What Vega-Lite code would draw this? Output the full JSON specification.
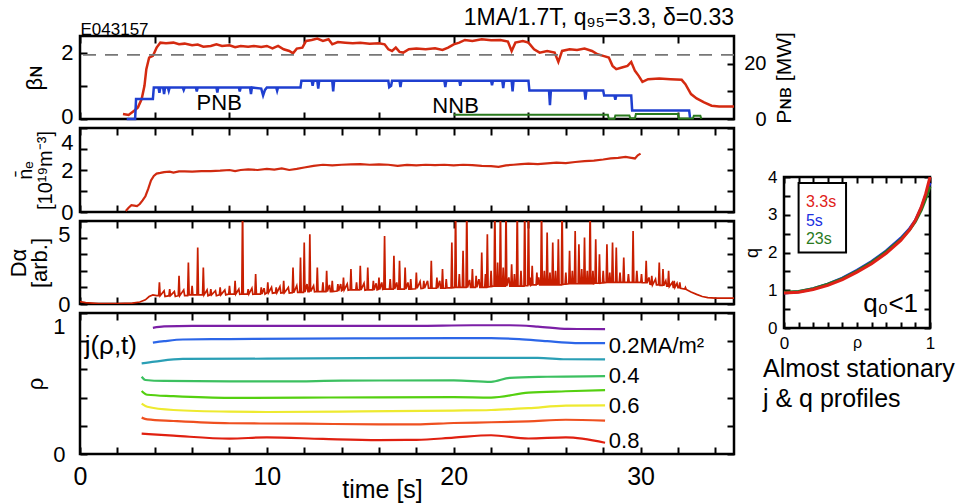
{
"$schema":"https://vega.github.io/schema/vega-lite/v6.json",
"padding":{"left":6,"top":5,"right":0,"bottom":0},
"background":"white",
"config":{"font":"Liberation Sans","view":{"stroke":"black","strokeWidth":2.5},
"axis":{"domain":false,"grid":false,"tickColor":"black","tickWidth":2,"tickSize":-7,"labelColor":"black","titleColor":"black","titleFontWeight":"normal","labelFlush":false,"labelOverlap":false,"labelFont":"Liberation Sans","titleFont":"Liberation Sans"},
"title":{"fontWeight":"normal","color":"black","font":"Liberation Sans"}},
"datasets":{
"beta":[{"t":2.3,"b":0.15},{"t":2.6,"b":0.12},{"t":2.9,"b":0.25},{"t":3.1,"b":0.35},{"t":3.3,"b":0.6},{"t":3.45,"b":1.0},{"t":3.55,"b":1.5},{"t":3.7,"b":1.85},{"t":3.9,"b":1.9},{"t":4.1,"b":2.15},{"t":4.3,"b":2.3},{"t":4.6,"b":2.28},{"t":5.0,"b":2.3},{"t":5.3,"b":2.25},{"t":5.6,"b":2.27},{"t":6.0,"b":2.22},{"t":6.3,"b":2.24},{"t":6.6,"b":2.18},{"t":7.0,"b":2.2},{"t":7.3,"b":2.25},{"t":7.6,"b":2.2},{"t":8.0,"b":2.22},{"t":8.3,"b":2.16},{"t":8.6,"b":2.2},{"t":9.0,"b":2.18},{"t":9.3,"b":2.2},{"t":9.7,"b":2.17},{"t":10.0,"b":2.2},{"t":10.3,"b":2.13},{"t":10.6,"b":2.2},{"t":10.9,"b":2.1},{"t":11.2,"b":2.05},{"t":11.4,"b":1.98},{"t":11.6,"b":2.12},{"t":11.9,"b":2.15},{"t":12.1,"b":2.35},{"t":12.4,"b":2.38},{"t":12.7,"b":2.42},{"t":13.0,"b":2.35},{"t":13.3,"b":2.4},{"t":13.5,"b":2.25},{"t":13.8,"b":2.32},{"t":14.2,"b":2.3},{"t":14.6,"b":2.28},{"t":15.0,"b":2.3},{"t":15.5,"b":2.27},{"t":16.0,"b":2.28},{"t":16.3,"b":2.25},{"t":16.5,"b":2.1},{"t":16.7,"b":2.05},{"t":16.9,"b":2.15},{"t":17.1,"b":2.02},{"t":17.3,"b":2.0},{"t":17.6,"b":2.1},{"t":18.0,"b":2.12},{"t":18.5,"b":2.1},{"t":19.0,"b":2.13},{"t":19.4,"b":2.08},{"t":19.7,"b":2.15},{"t":20.0,"b":2.25},{"t":20.3,"b":2.3},{"t":20.6,"b":2.38},{"t":21.0,"b":2.35},{"t":21.5,"b":2.4},{"t":22.0,"b":2.37},{"t":22.5,"b":2.38},{"t":22.9,"b":2.33},{"t":23.1,"b":2.05},{"t":23.3,"b":2.3},{"t":23.7,"b":2.35},{"t":24.0,"b":2.3},{"t":24.3,"b":2.1},{"t":24.6,"b":2.0},{"t":25.0,"b":2.05},{"t":25.4,"b":2.0},{"t":25.6,"b":1.72},{"t":25.8,"b":2.05},{"t":26.2,"b":2.1},{"t":26.6,"b":2.08},{"t":27.0,"b":2.12},{"t":27.4,"b":2.05},{"t":27.7,"b":1.95},{"t":28.0,"b":1.9},{"t":28.3,"b":1.85},{"t":28.5,"b":1.6},{"t":28.7,"b":1.5},{"t":29.0,"b":1.55},{"t":29.3,"b":1.6},{"t":29.5,"b":1.72},{"t":29.7,"b":1.45},{"t":29.9,"b":1.3},{"t":30.1,"b":1.12},{"t":30.4,"b":1.2},{"t":31.0,"b":1.22},{"t":31.6,"b":1.2},{"t":32.2,"b":1.18},{"t":32.4,"b":1.05},{"t":32.7,"b":0.75},{"t":33.0,"b":0.62},{"t":33.4,"b":0.5},{"t":33.8,"b":0.4},{"t":34.2,"b":0.38},{"t":35.0,"b":0.38}],
"pnb":[{"t":2.5,"p":0},{"t":2.95,"p":0},{"t":3.0,"p":7.2},{"t":3.9,"p":7.2},{"t":3.95,"p":11.4},{"t":4.2,"p":11.4},{"t":4.25,"p":9.5},{"t":4.3,"p":11.4},{"t":4.45,"p":11.4},{"t":4.5,"p":9.0},{"t":4.55,"p":11.4},{"t":4.7,"p":11.4},{"t":4.75,"p":10.2},{"t":4.8,"p":11.4},{"t":5.5,"p":11.4},{"t":5.55,"p":10.5},{"t":5.6,"p":11.4},{"t":6.2,"p":11.4},{"t":6.25,"p":10.0},{"t":6.3,"p":11.4},{"t":7.3,"p":11.4},{"t":7.35,"p":9.6},{"t":7.4,"p":11.4},{"t":8.5,"p":11.4},{"t":8.55,"p":10.0},{"t":8.6,"p":11.4},{"t":9.1,"p":11.4},{"t":9.15,"p":9.0},{"t":9.2,"p":11.4},{"t":9.7,"p":11.0},{"t":9.8,"p":8.5},{"t":9.9,"p":10.5},{"t":10.0,"p":11.4},{"t":10.5,"p":11.4},{"t":10.55,"p":10.2},{"t":10.6,"p":11.4},{"t":11.8,"p":11.4},{"t":11.85,"p":13.8},{"t":12.4,"p":13.8},{"t":12.45,"p":12.0},{"t":12.5,"p":13.8},{"t":12.7,"p":13.8},{"t":12.75,"p":11.0},{"t":12.8,"p":13.8},{"t":13.5,"p":13.8},{"t":13.55,"p":10.0},{"t":13.6,"p":13.8},{"t":16.5,"p":13.8},{"t":16.55,"p":11.5},{"t":16.65,"p":12.0},{"t":16.7,"p":13.8},{"t":17.1,"p":13.8},{"t":17.15,"p":11.5},{"t":17.2,"p":13.8},{"t":19.5,"p":13.8},{"t":19.55,"p":11.5},{"t":19.6,"p":13.8},{"t":20.3,"p":13.8},{"t":20.35,"p":12.0},{"t":20.4,"p":13.8},{"t":22.0,"p":13.8},{"t":22.05,"p":12.2},{"t":22.1,"p":13.8},{"t":22.6,"p":13.8},{"t":22.65,"p":11.2},{"t":22.7,"p":13.8},{"t":23.1,"p":13.8},{"t":23.15,"p":10.0},{"t":23.2,"p":13.8},{"t":24.0,"p":13.8},{"t":24.05,"p":10.3},{"t":25.1,"p":10.3},{"t":25.15,"p":5.0},{"t":25.2,"p":10.3},{"t":27.0,"p":10.3},{"t":27.05,"p":7.0},{"t":27.1,"p":10.3},{"t":28.0,"p":10.3},{"t":28.05,"p":8.5},{"t":28.6,"p":8.5},{"t":28.65,"p":7.0},{"t":28.7,"p":8.5},{"t":29.5,"p":8.5},{"t":29.55,"p":3.1},{"t":32.6,"p":3.1},{"t":32.65,"p":0.2}],
"nnb":[{"t":20.0,"p":1.5},{"t":28.25,"p":1.5},{"t":28.3,"p":0.1},{"t":28.6,"p":0.1},{"t":28.65,"p":1.3},{"t":29.4,"p":1.3},{"t":29.45,"p":0.3},{"t":29.7,"p":0.3},{"t":29.75,"p":1.8},{"t":32.0,"p":1.8},{"t":32.05,"p":0.2},{"t":32.8,"p":0.2},{"t":32.85,"p":1.2},{"t":33.2,"p":1.2},{"t":33.25,"p":0.1}],
"ne":[{"t":2.45,"n":0.05},{"t":2.6,"n":0.2},{"t":2.75,"n":0.32},{"t":2.9,"n":0.3},{"t":3.05,"n":0.28},{"t":3.2,"n":0.38},{"t":3.35,"n":0.55},{"t":3.5,"n":0.75},{"t":3.65,"n":1.1},{"t":3.8,"n":1.5},{"t":3.95,"n":1.72},{"t":4.1,"n":1.83},{"t":4.3,"n":1.86},{"t":4.5,"n":1.9},{"t":4.8,"n":1.92},{"t":5.0,"n":1.88},{"t":5.3,"n":1.93},{"t":5.6,"n":1.93},{"t":6.0,"n":1.92},{"t":6.5,"n":1.95},{"t":7.0,"n":1.95},{"t":7.5,"n":1.97},{"t":8.0,"n":2.0},{"t":8.3,"n":1.95},{"t":8.6,"n":2.0},{"t":9.0,"n":2.03},{"t":9.5,"n":2.0},{"t":10.0,"n":2.05},{"t":10.4,"n":2.02},{"t":10.8,"n":2.08},{"t":11.2,"n":2.0},{"t":11.6,"n":2.05},{"t":12.0,"n":2.12},{"t":12.5,"n":2.2},{"t":13.0,"n":2.25},{"t":13.5,"n":2.22},{"t":14.0,"n":2.25},{"t":14.5,"n":2.27},{"t":15.0,"n":2.28},{"t":15.5,"n":2.25},{"t":16.0,"n":2.27},{"t":16.5,"n":2.25},{"t":17.0,"n":2.2},{"t":17.5,"n":2.24},{"t":18.0,"n":2.22},{"t":18.5,"n":2.25},{"t":19.0,"n":2.23},{"t":19.5,"n":2.25},{"t":20.0,"n":2.22},{"t":20.5,"n":2.25},{"t":21.0,"n":2.23},{"t":21.5,"n":2.2},{"t":22.0,"n":2.18},{"t":22.4,"n":2.15},{"t":22.8,"n":2.22},{"t":23.2,"n":2.25},{"t":23.6,"n":2.28},{"t":24.0,"n":2.3},{"t":24.5,"n":2.28},{"t":25.0,"n":2.32},{"t":25.5,"n":2.35},{"t":26.0,"n":2.33},{"t":26.5,"n":2.38},{"t":27.0,"n":2.42},{"t":27.5,"n":2.45},{"t":28.0,"n":2.5},{"t":28.4,"n":2.55},{"t":28.8,"n":2.58},{"t":29.2,"n":2.62},{"t":29.5,"n":2.58},{"t":29.7,"n":2.55},{"t":29.85,"n":2.7},{"t":30.0,"n":2.78}],
"da":[{"t":0,"v":0.15},{"t":0.3,"v":0.08},{"t":1,"v":0.03},{"t":2,"v":0.02},{"t":2.8,"v":0.05},{"t":3.2,"v":0.12},{"t":3.5,"v":0.25},{"t":3.7,"v":0.45},{"t":3.9,"v":0.55},{"t":4.1,"v":0.5},
{"t":4.21,"v":0.5},{"t":4.25,"v":1.3},{"t":4.29,"v":0.5},{"t":4.5,"v":0.8},{"t":4.55,"v":0.45},{"t":4.76,"v":0.5},{"t":4.8,"v":0.9},{"t":4.84,"v":0.5},{"t":5.05,"v":0.75},{"t":5.1,"v":0.45},{"t":5.26,"v":0.5},{"t":5.3,"v":1.7},{"t":5.34,"v":0.5},{"t":5.55,"v":0.85},{"t":5.6,"v":0.5},{"t":5.76,"v":0.5},{"t":5.8,"v":2.5},{"t":5.84,"v":0.55},{"t":5.96,"v":0.55},{"t":6.0,"v":1.1},{"t":6.04,"v":0.55},{"t":6.26,"v":0.55},{"t":6.3,"v":3.4},{"t":6.34,"v":0.55},{"t":6.56,"v":0.55},{"t":6.6,"v":2.2},{"t":6.64,"v":0.55},{"t":6.8,"v":0.85},{"t":6.85,"v":0.5},{"t":6.96,"v":0.55},{"t":7.0,"v":0.9},{"t":7.04,"v":0.55},{"t":7.25,"v":0.8},{"t":7.3,"v":0.5},{"t":7.46,"v":0.55},{"t":7.5,"v":1.0},{"t":7.54,"v":0.55},{"t":7.75,"v":0.85},{"t":7.8,"v":0.55},{"t":7.96,"v":0.6},{"t":8.0,"v":1.1},{"t":8.04,"v":0.6},{"t":8.26,"v":0.6},{"t":8.3,"v":1.4},{"t":8.34,"v":0.6},{"t":8.5,"v":0.9},{"t":8.55,"v":0.58},{"t":8.66,"v":0.6},{"t":8.7,"v":6},{"t":8.74,"v":0.6},{"t":8.96,"v":0.6},{"t":9.0,"v":0.9},{"t":9.04,"v":0.6},{"t":9.2,"v":0.95},{"t":9.25,"v":0.58},{"t":9.36,"v":0.6},{"t":9.4,"v":1.8},{"t":9.44,"v":0.6},{"t":9.66,"v":0.6},{"t":9.7,"v":1.0},{"t":9.74,"v":0.6},{"t":9.85,"v":0.95},{"t":9.9,"v":0.6},{"t":10.01,"v":0.68},{"t":10.05,"v":1.3},{"t":10.09,"v":0.68},{"t":10.25,"v":1.0},{"t":10.3,"v":0.65},{"t":10.46,"v":0.68},{"t":10.5,"v":1.0},{"t":10.54,"v":0.68},{"t":10.7,"v":1.05},{"t":10.75,"v":0.66},{"t":10.86,"v":0.68},{"t":10.9,"v":1.4},{"t":10.94,"v":0.68},{"t":11.15,"v":1.0},{"t":11.2,"v":0.66},{"t":11.36,"v":0.68},{"t":11.4,"v":2.2},{"t":11.44,"v":0.68},{"t":11.6,"v":1.1},{"t":11.65,"v":0.7},{"t":11.76,"v":0.7},{"t":11.8,"v":2.8},{"t":11.84,"v":0.7},{"t":11.96,"v":0.7},{"t":12.0,"v":3.7},{"t":12.04,"v":0.72},{"t":12.15,"v":1.2},{"t":12.2,"v":0.75},{"t":12.26,"v":0.75},{"t":12.3,"v":4.2},{"t":12.34,"v":0.75},{"t":12.5,"v":1.1},{"t":12.55,"v":0.73},{"t":12.66,"v":0.75},{"t":12.7,"v":2.2},{"t":12.74,"v":0.75},{"t":12.96,"v":0.75},{"t":13.0,"v":1.3},{"t":13.04,"v":0.75},{"t":13.16,"v":0.75},{"t":13.2,"v":2.0},{"t":13.24,"v":0.75},{"t":13.35,"v":1.15},{"t":13.4,"v":0.75},{"t":13.46,"v":0.75},{"t":13.5,"v":1.4},{"t":13.54,"v":0.75},{"t":13.76,"v":0.78},{"t":13.8,"v":1.2},{"t":13.84,"v":0.78},{"t":13.95,"v":1.2},{"t":14.0,"v":0.8},{"t":14.06,"v":0.85},{"t":14.1,"v":1.6},{"t":14.14,"v":0.85},{"t":14.3,"v":1.2},{"t":14.35,"v":0.83},{"t":14.46,"v":0.85},{"t":14.5,"v":2.1},{"t":14.54,"v":0.85},{"t":14.76,"v":0.85},{"t":14.8,"v":1.3},{"t":14.84,"v":0.85},{"t":14.96,"v":0.85},{"t":15.0,"v":2.3},{"t":15.04,"v":0.85},{"t":15.2,"v":1.25},{"t":15.25,"v":0.83},{"t":15.36,"v":0.85},{"t":15.4,"v":2.2},{"t":15.44,"v":0.85},{"t":15.66,"v":0.85},{"t":15.7,"v":1.4},{"t":15.74,"v":0.85},{"t":15.85,"v":1.25},{"t":15.9,"v":0.85},{"t":15.96,"v":0.88},{"t":16.0,"v":1.6},{"t":16.04,"v":0.88},{"t":16.15,"v":1.3},{"t":16.2,"v":0.88},{"t":16.26,"v":0.9},{"t":16.3,"v":4.1},{"t":16.34,"v":0.9},{"t":16.56,"v":0.9},{"t":16.6,"v":1.5},{"t":16.64,"v":0.9},{"t":16.76,"v":0.9},{"t":16.8,"v":2.9},{"t":16.84,"v":0.9},{"t":16.95,"v":1.3},{"t":17.0,"v":0.9},{"t":17.06,"v":0.9},{"t":17.1,"v":2.6},{"t":17.14,"v":0.9},{"t":17.36,"v":0.9},{"t":17.4,"v":2.2},{"t":17.44,"v":0.9},{"t":17.55,"v":1.3},{"t":17.6,"v":0.9},{"t":17.66,"v":0.9},{"t":17.7,"v":1.5},{"t":17.74,"v":0.9},{"t":17.96,"v":0.92},{"t":18.0,"v":1.9},{"t":18.04,"v":0.95},{"t":18.2,"v":1.35},{"t":18.25,"v":0.93},{"t":18.36,"v":0.95},{"t":18.4,"v":1.4},{"t":18.44,"v":0.95},{"t":18.6,"v":1.4},{"t":18.65,"v":0.95},{"t":18.76,"v":0.95},{"t":18.8,"v":2.6},{"t":18.84,"v":0.95},{"t":19.06,"v":0.95},{"t":19.1,"v":1.6},{"t":19.14,"v":0.95},{"t":19.25,"v":1.4},{"t":19.3,"v":0.95},{"t":19.36,"v":0.95},{"t":19.4,"v":2.1},{"t":19.44,"v":0.95},{"t":19.56,"v":0.95},{"t":19.6,"v":1.5},{"t":19.64,"v":0.97},{"t":19.86,"v":0.98},{"t":19.9,"v":3.7},{"t":19.94,"v":0.98},{"t":20.06,"v":1.0},{"t":20.1,"v":6},{"t":20.14,"v":1.0},{"t":20.26,"v":1.0},{"t":20.3,"v":1.8},{"t":20.34,"v":1.0},{"t":20.46,"v":1.0},{"t":20.5,"v":3.2},{"t":20.54,"v":1.0},{"t":20.66,"v":1.0},{"t":20.7,"v":6},{"t":20.74,"v":1.0},{"t":20.85,"v":1.45},{"t":20.9,"v":1.0},{"t":20.96,"v":1.0},{"t":21.0,"v":2.1},{"t":21.04,"v":1.0},{"t":21.16,"v":1.0},{"t":21.2,"v":1.7},{"t":21.24,"v":1.0},{"t":21.35,"v":1.5},{"t":21.4,"v":1.0},{"t":21.46,"v":1.0},{"t":21.5,"v":3.1},{"t":21.54,"v":1.0},{"t":21.66,"v":1.0},{"t":21.7,"v":1.8},{"t":21.74,"v":1.0},{"t":21.76,"v":1.0},{"t":21.8,"v":4.2},{"t":21.84,"v":1.02},{"t":21.96,"v":1.05},{"t":22.0,"v":2.0},{"t":22.04,"v":1.05},{"t":22.16,"v":1.08},{"t":22.2,"v":6},{"t":22.24,"v":1.08},{"t":22.31,"v":1.08},{"t":22.35,"v":2.5},{"t":22.39,"v":1.08},{"t":22.46,"v":1.08},{"t":22.5,"v":6},{"t":22.54,"v":1.08},{"t":22.61,"v":1.08},{"t":22.65,"v":2.2},{"t":22.69,"v":1.08},{"t":22.76,"v":1.08},{"t":22.8,"v":6},{"t":22.84,"v":1.08},{"t":22.95,"v":1.6},{"t":23.0,"v":1.08},{"t":23.06,"v":1.08},{"t":23.1,"v":2.4},{"t":23.14,"v":1.08},{"t":23.21,"v":1.08},{"t":23.25,"v":1.8},{"t":23.29,"v":1.08},{"t":23.36,"v":1.08},{"t":23.4,"v":6},{"t":23.44,"v":1.08},{"t":23.56,"v":1.08},{"t":23.6,"v":2.0},{"t":23.64,"v":1.08},{"t":23.76,"v":1.08},{"t":23.8,"v":6},{"t":23.84,"v":1.1},{"t":23.96,"v":1.1},{"t":24.0,"v":6},{"t":24.04,"v":1.12},{"t":24.1,"v":1.6},{"t":24.12,"v":1.12},{"t":24.16,"v":1.15},{"t":24.2,"v":2.3},{"t":24.24,"v":1.15},{"t":24.41,"v":1.15},{"t":24.45,"v":1.9},{"t":24.49,"v":1.15},{"t":24.55,"v":1.6},{"t":24.6,"v":1.15},{"t":24.66,"v":1.15},{"t":24.7,"v":6},{"t":24.74,"v":1.15},{"t":24.81,"v":1.15},{"t":24.85,"v":2.0},{"t":24.89,"v":1.15},{"t":24.96,"v":1.15},{"t":25.0,"v":4.3},{"t":25.04,"v":1.15},{"t":25.11,"v":1.15},{"t":25.15,"v":1.9},{"t":25.19,"v":1.15},{"t":25.26,"v":1.15},{"t":25.3,"v":3.7},{"t":25.34,"v":1.15},{"t":25.41,"v":1.15},{"t":25.45,"v":2.0},{"t":25.49,"v":1.15},{"t":25.56,"v":1.15},{"t":25.6,"v":3.9},{"t":25.64,"v":1.15},{"t":25.76,"v":1.15},{"t":25.8,"v":6},{"t":25.84,"v":1.18},{"t":25.96,"v":1.2},{"t":26.0,"v":1.9},{"t":26.04,"v":1.2},{"t":26.16,"v":1.22},{"t":26.2,"v":3.2},{"t":26.24,"v":1.22},{"t":26.31,"v":1.22},{"t":26.35,"v":2.0},{"t":26.39,"v":1.22},{"t":26.46,"v":1.22},{"t":26.5,"v":4.4},{"t":26.54,"v":1.22},{"t":26.66,"v":1.22},{"t":26.7,"v":3.6},{"t":26.74,"v":1.22},{"t":26.81,"v":1.22},{"t":26.85,"v":2.1},{"t":26.89,"v":1.22},{"t":26.96,"v":1.22},{"t":27.0,"v":4.0},{"t":27.04,"v":1.22},{"t":27.11,"v":1.22},{"t":27.15,"v":2.0},{"t":27.19,"v":1.22},{"t":27.26,"v":1.22},{"t":27.3,"v":6},{"t":27.34,"v":1.22},{"t":27.41,"v":1.22},{"t":27.45,"v":2.0},{"t":27.49,"v":1.22},{"t":27.56,"v":1.25},{"t":27.6,"v":3.9},{"t":27.64,"v":1.25},{"t":27.76,"v":1.25},{"t":27.8,"v":3.0},{"t":27.84,"v":1.25},{"t":27.96,"v":1.28},{"t":28.0,"v":2.0},{"t":28.04,"v":1.28},{"t":28.16,"v":1.3},{"t":28.2,"v":3.6},{"t":28.24,"v":1.3},{"t":28.31,"v":1.3},{"t":28.35,"v":1.9},{"t":28.39,"v":1.3},{"t":28.46,"v":1.3},{"t":28.5,"v":3.7},{"t":28.54,"v":1.3},{"t":28.66,"v":1.3},{"t":28.7,"v":3.4},{"t":28.74,"v":1.3},{"t":28.86,"v":1.3},{"t":28.9,"v":1.9},{"t":28.94,"v":1.3},{"t":29.06,"v":1.3},{"t":29.1,"v":2.8},{"t":29.14,"v":1.3},{"t":29.31,"v":1.3},{"t":29.35,"v":1.8},{"t":29.39,"v":1.3},{"t":29.56,"v":1.3},{"t":29.6,"v":4.4},{"t":29.64,"v":1.3},{"t":29.76,"v":1.3},{"t":29.8,"v":2.0},{"t":29.84,"v":1.3},{"t":30.01,"v":1.3},{"t":30.05,"v":1.8},{"t":30.09,"v":1.28},{"t":30.26,"v":1.28},{"t":30.3,"v":2.6},{"t":30.34,"v":1.25},{"t":30.45,"v":1.6},{"t":30.5,"v":1.2},{"t":30.56,"v":1.18},{"t":30.6,"v":1.7},{"t":30.64,"v":1.15},{"t":30.8,"v":1.5},{"t":30.85,"v":1.15},{"t":30.96,"v":1.15},{"t":31.0,"v":2.5},{"t":31.04,"v":1.12},{"t":31.16,"v":1.12},{"t":31.2,"v":2.1},{"t":31.24,"v":1.1},{"t":31.35,"v":1.4},{"t":31.4,"v":1.08},{"t":31.46,"v":1.08},{"t":31.5,"v":2.0},{"t":31.54,"v":1.05},{"t":31.7,"v":1.3},{"t":31.75,"v":1.0},{"t":31.76,"v":1.0},{"t":31.8,"v":1.4},{"t":31.84,"v":1.0},{"t":31.95,"v":1.25},{"t":32.0,"v":0.98},{"t":32.06,"v":0.98},{"t":32.1,"v":1.3},{"t":32.14,"v":0.95},{"t":32.36,"v":0.9},{"t":32.4,"v":1.0},{"t":32.44,"v":0.88},{"t":32.7,"v":0.72},{"t":33.0,"v":0.58},{"t":33.3,"v":0.45},{"t":33.6,"v":0.38},{"t":34.0,"v":0.35},{"t":35.0,"v":0.35}],
"rho":[{"k":"a","t":3.9,"r":0.895},{"k":"a","t":4.5,"r":0.905},{"k":"a","t":6,"r":0.908},{"k":"a","t":10,"r":0.908},{"k":"a","t":14,"r":0.908},{"k":"a","t":18,"r":0.909},{"k":"a","t":21,"r":0.913},{"k":"a","t":23,"r":0.913},{"k":"a","t":24.5,"r":0.904},{"k":"a","t":26.1,"r":0.887},{"k":"a","t":28.1,"r":0.886},
{"k":"b","t":3.9,"r":0.79},{"k":"b","t":4.5,"r":0.80},{"k":"b","t":5.5,"r":0.812},{"k":"b","t":8,"r":0.815},{"k":"b","t":12,"r":0.818},{"k":"b","t":16,"r":0.82},{"k":"b","t":20,"r":0.822},{"k":"b","t":22,"r":0.822},{"k":"b","t":23.5,"r":0.815},{"k":"b","t":25,"r":0.8},{"k":"b","t":26.5,"r":0.787},{"k":"b","t":28.1,"r":0.786},
{"k":"c","t":3.3,"r":0.643},{"k":"c","t":4,"r":0.655},{"k":"c","t":5.5,"r":0.674},{"k":"c","t":10,"r":0.676},{"k":"c","t":15,"r":0.68},{"k":"c","t":20,"r":0.682},{"k":"c","t":24.5,"r":0.682},{"k":"c","t":26,"r":0.672},{"k":"c","t":28.1,"r":0.671},
{"k":"d","t":3.3,"r":0.548},{"k":"d","t":3.5,"r":0.525},{"k":"d","t":4.5,"r":0.518},{"k":"d","t":8,"r":0.515},{"k":"d","t":11,"r":0.515},{"k":"d","t":14,"r":0.52},{"k":"d","t":20,"r":0.522},{"k":"d","t":22,"r":0.512},{"k":"d","t":23,"r":0.54},{"k":"d","t":25,"r":0.548},{"k":"d","t":28.1,"r":0.553},
{"k":"e","t":3.3,"r":0.447},{"k":"e","t":3.6,"r":0.42},{"k":"e","t":5,"r":0.41},{"k":"e","t":8,"r":0.398},{"k":"e","t":12,"r":0.4},{"k":"e","t":16,"r":0.402},{"k":"e","t":20,"r":0.403},{"k":"e","t":22,"r":0.4},{"k":"e","t":24,"r":0.435},{"k":"e","t":26,"r":0.445},{"k":"e","t":28.1,"r":0.453},
{"k":"f","t":3.3,"r":0.357},{"k":"f","t":3.6,"r":0.335},{"k":"f","t":5,"r":0.312},{"k":"f","t":8,"r":0.3},{"k":"f","t":10,"r":0.298},{"k":"f","t":15,"r":0.302},{"k":"f","t":20,"r":0.308},{"k":"f","t":22,"r":0.312},{"k":"f","t":24,"r":0.325},{"k":"f","t":26,"r":0.343},{"k":"f","t":28.1,"r":0.345},
{"k":"g","t":3.3,"r":0.258},{"k":"g","t":3.6,"r":0.245},{"k":"g","t":5,"r":0.234},{"k":"g","t":8,"r":0.218},{"k":"g","t":12,"r":0.215},{"k":"g","t":16,"r":0.21},{"k":"g","t":18,"r":0.21},{"k":"g","t":20,"r":0.22},{"k":"g","t":22,"r":0.225},{"k":"g","t":24,"r":0.232},{"k":"g","t":26,"r":0.243},{"k":"g","t":28.1,"r":0.236},
{"k":"h","t":3.3,"r":0.144},{"k":"h","t":5,"r":0.13},{"k":"h","t":8,"r":0.109},{"k":"h","t":10,"r":0.118},{"k":"h","t":13,"r":0.107},{"k":"h","t":16,"r":0.099},{"k":"h","t":18,"r":0.1},{"k":"h","t":20,"r":0.116},{"k":"h","t":22,"r":0.133},{"k":"h","t":24,"r":0.11},{"k":"h","t":26,"r":0.118},{"k":"h","t":28.1,"r":0.08}],
"q":[{"s":"3.3s","x":0,"q":0.93},{"s":"3.3s","x":0.1,"q":0.95},{"s":"3.3s","x":0.2,"q":1.02},{"s":"3.3s","x":0.3,"q":1.13},{"s":"3.3s","x":0.4,"q":1.28},{"s":"3.3s","x":0.5,"q":1.48},{"s":"3.3s","x":0.6,"q":1.7},{"s":"3.3s","x":0.7,"q":1.98},{"s":"3.3s","x":0.8,"q":2.32},{"s":"3.3s","x":0.86,"q":2.6},{"s":"3.3s","x":0.9,"q":2.85},{"s":"3.3s","x":0.94,"q":3.2},{"s":"3.3s","x":0.97,"q":3.55},{"s":"3.3s","x":0.99,"q":3.85},{"s":"3.3s","x":1.0,"q":4.0},
{"s":"5s","x":0,"q":0.93},{"s":"5s","x":0.1,"q":0.96},{"s":"5s","x":0.2,"q":1.04},{"s":"5s","x":0.3,"q":1.16},{"s":"5s","x":0.4,"q":1.32},{"s":"5s","x":0.5,"q":1.53},{"s":"5s","x":0.6,"q":1.76},{"s":"5s","x":0.7,"q":2.04},{"s":"5s","x":0.8,"q":2.38},{"s":"5s","x":0.86,"q":2.63},{"s":"5s","x":0.9,"q":2.85},{"s":"5s","x":0.94,"q":3.18},{"s":"5s","x":0.97,"q":3.5},{"s":"5s","x":1.0,"q":3.85},
{"s":"23s","x":0,"q":0.95},{"s":"23s","x":0.1,"q":0.97},{"s":"23s","x":0.2,"q":1.04},{"s":"23s","x":0.3,"q":1.16},{"s":"23s","x":0.4,"q":1.31},{"s":"23s","x":0.5,"q":1.51},{"s":"23s","x":0.6,"q":1.74},{"s":"23s","x":0.7,"q":2.02},{"s":"23s","x":0.8,"q":2.35},{"s":"23s","x":0.86,"q":2.6},{"s":"23s","x":0.9,"q":2.82},{"s":"23s","x":0.94,"q":3.12},{"s":"23s","x":0.97,"q":3.42},{"s":"23s","x":1.0,"q":3.75}]
},
"resolve":{"scale":{"color":"independent"}},
"bounds":"flush",
"spacing":704,
"hconcat":[
{"bounds":"flush","spacing":9,"vconcat":[
{"width":654,"height":83,
"title":{"text":"1MA/1.7T, q₉₅=3.3, δ=0.33","anchor":"end","frame":"group","fontSize":23,"offset":-10},
"layer":[
{"layer":[
{"data":{"name":"beta"},"mark":{"type":"line","color":"#d42a10","strokeWidth":2.5},
"encoding":{"x":{"field":"t","type":"quantitative","scale":{"domain":[0,35],"nice":false,"zero":false},"axis":{"orient":"bottom","values":[0,2,4,6,8,10,12,14,16,18,20,22,24,26,28,30,32,34],"labels":false,"title":null}},
"y":{"field":"b","type":"quantitative","scale":{"domain":[0,2.5],"nice":false},"axis":{"orient":"left","values":[0,0.5,1,1.5,2],"labelExpr":"datum.value==0||datum.value==2 ? format(datum.value,'d') : ''","labelFontSize":22,"labelPadding":14,"labelOffset":{"condition":{"test":"datum.value == 0","value":-3},"value":0},"title":"βɴ","titleFontSize":22,"titlePadding":14}}}},
{"data":{"values":[{"b":1.93}]},"mark":{"type":"rule","color":"#777777","strokeWidth":1.6,"strokeDash":[13,9]},
"encoding":{"y":{"field":"b","type":"quantitative","scale":{"domain":[0,2.5],"nice":false}}}},
{"data":{"values":[{"t":7.45,"b":0.49,"label":"PNB"},{"t":20.1,"b":0.40,"label":"NNB"}]},"mark":{"type":"text","fontSize":22,"align":"center","baseline":"middle","color":"black"},
"encoding":{"x":{"field":"t","type":"quantitative","scale":{"domain":[0,35],"nice":false,"zero":false}},"y":{"field":"b","type":"quantitative","scale":{"domain":[0,2.5],"nice":false}},"text":{"field":"label"}}}
]},
{"layer":[
{"data":{"name":"pnb"},"mark":{"type":"line","color":"#1f3fd0","strokeWidth":2.5},
"encoding":{"x":{"field":"t","type":"quantitative","scale":{"domain":[0,35],"nice":false,"zero":false},"axis":{"orient":"top","values":[0,2,4,6,8,10,12,14,16,18,20,22,24,26,28,30,32,34],"labels":false,"title":"E043157","titleFontSize":17,"titleAnchor":"start","titleAlign":"left","titlePadding":-3}},
"y":{"field":"p","type":"quantitative","scale":{"domain":[0,30],"nice":false},"axis":{"orient":"right","values":[0,5,10,15,20,25],"labelExpr":"datum.value==0||datum.value==20 ? datum.label : ''","labelFontSize":20,"labelAlign":"right","labelPadding":39,"title":"Pɴʙ [MW]","titleFontSize":21,"titleAngle":270,"titleBaseline":"top","titlePadding":7}}}},
{"data":{"name":"nnb"},"mark":{"type":"line","color":"#2a7a1e","strokeWidth":2},
"encoding":{"x":{"field":"t","type":"quantitative","scale":{"domain":[0,35],"nice":false,"zero":false}},"y":{"field":"p","type":"quantitative","scale":{"domain":[0,30],"nice":false}}}}
]}
],
"resolve":{"scale":{"y":"independent"},"axis":{"x":"independent","y":"independent"}}
},
{"width":654,"height":84,
"layer":[
{"data":{"name":"ne"},"mark":{"type":"line","color":"#d02a10","strokeWidth":2.2},
"encoding":{"x":{"field":"t","type":"quantitative","scale":{"domain":[0,35],"nice":false,"zero":false},"axis":{"orient":"bottom","values":[0,2,4,6,8,10,12,14,16,18,20,22,24,26,28,30,32,34],"labels":false,"title":null}},
"y":{"field":"n","type":"quantitative","scale":{"domain":[0,4],"nice":false},"axis":{"orient":"left","values":[0,1,2,3,4],"labelExpr":"datum.value % 2 == 0 ? format(datum.value,'d') : ''","labelFontSize":22,"labelPadding":14,"labelBaseline":{"condition":{"test":"datum.value == 4","value":"top"},"value":"middle"},"labelOffset":{"condition":{"test":"datum.value == 4","value":4},"value":0},"title":["n̄ₑ","[10¹⁹m⁻³]"],"titleFontSize":20,"titleLineHeight":20,"titlePadding":5}}}},
{"data":{"values":[{"t":10,"n":1}]},"mark":{"type":"point","opacity":0,"size":0},
"encoding":{"x":{"field":"t","type":"quantitative","scale":{"domain":[0,35],"nice":false,"zero":false},"axis":{"orient":"top","values":[0,2,4,6,8,10,12,14,16,18,20,22,24,26,28,30,32,34],"labels":false,"title":null}},
"y":{"field":"n","type":"quantitative","scale":{"domain":[0,4],"nice":false},"axis":{"orient":"right","values":[0,1,2,3,4],"labels":false,"title":null}}}}
],
"resolve":{"axis":{"x":"independent","y":"independent"}}
},
{"width":654,"height":83,
"layer":[
{"data":{"name":"da"},"mark":{"type":"line","color":"#c81e00","strokeWidth":1.7,"clip":true},
"encoding":{"x":{"field":"t","type":"quantitative","scale":{"domain":[0,35],"nice":false,"zero":false},"axis":{"orient":"bottom","values":[0,2,4,6,8,10,12,14,16,18,20,22,24,26,28,30,32,34],"labels":false,"title":null}},
"y":{"field":"v","type":"quantitative","scale":{"domain":[0,5],"nice":false},"axis":{"orient":"left","values":[0,1,2,3,4,5],"labelExpr":"datum.value==0||datum.value==5 ? format(datum.value,'d') : ''","labelFontSize":22,"labelPadding":17,"labelBaseline":{"condition":{"test":"datum.value == 5","value":"top"},"value":"middle"},"labelOffset":{"condition":{"test":"datum.value == 5","value":3},"value":0},"title":["Dα","[arb.]"],"titleFontSize":22,"titleLineHeight":21,"titlePadding":6}}}},
{"data":{"values":[{"t":10,"v":1}]},"mark":{"type":"point","opacity":0,"size":0},
"encoding":{"x":{"field":"t","type":"quantitative","scale":{"domain":[0,35],"nice":false,"zero":false},"axis":{"orient":"top","values":[0,2,4,6,8,10,12,14,16,18,20,22,24,26,28,30,32,34],"labels":false,"title":null}},
"y":{"field":"v","type":"quantitative","scale":{"domain":[0,5],"nice":false},"axis":{"orient":"right","values":[0,1,2,3,4,5],"labels":false,"title":null}}}}
],
"resolve":{"axis":{"x":"independent","y":"independent"}}
},
{"width":654,"height":141,
"layer":[
{"data":{"name":"rho"},"mark":{"type":"line","strokeWidth":2.2,"interpolate":"monotone"},
"encoding":{"x":{"field":"t","type":"quantitative","scale":{"domain":[0,35],"nice":false,"zero":false},"axis":{"orient":"bottom","values":[0,2,4,6,8,10,12,14,16,18,20,22,24,26,28,30,32,34],"labelExpr":"datum.value % 10 == 0 ? datum.label : ''","labelFontSize":25,"labelPadding":17,"title":"time [s]","titleFontSize":25,"titlePadding":-12,"titleX":302}},
"y":{"field":"r","type":"quantitative","scale":{"domain":[0,1],"nice":false},"axis":{"orient":"left","values":[0,0.2,0.4,0.6,0.8,1],"labelExpr":"datum.value==0||datum.value==1 ? format(datum.value,'d') : ''","labelFontSize":22,"labelPadding":22,"labelBaseline":{"condition":{"test":"datum.value == 1","value":"top"},"value":"middle"},"labelOffset":{"condition":{"test":"datum.value == 1","value":3},"value":0},"title":"ρ","titleFontSize":22,"titlePadding":5}},
"color":{"field":"k","type":"nominal","scale":{"domain":["a","b","c","d","e","f","g","h"],"range":["#7b1fa6","#2c66e8","#2a9fb5","#3cc060","#55d010","#eeea30","#ef5020","#e02010"]},"legend":null}}},
{"data":{"values":[{"t":28.3,"r":0.766,"label":"0.2MA/m²"},{"t":28.3,"r":0.553,"label":"0.4"},{"t":28.3,"r":0.34,"label":"0.6"},{"t":28.3,"r":0.092,"label":"0.8"}]},
"mark":{"type":"text","fontSize":22,"align":"left","baseline":"middle","color":"black"},
"encoding":{"x":{"field":"t","type":"quantitative","scale":{"domain":[0,35],"nice":false,"zero":false},"axis":null},"y":{"field":"r","type":"quantitative","scale":{"domain":[0,1],"nice":false},"axis":null},"text":{"field":"label"}}},
{"data":{"values":[{"t":0.25,"r":0.765,"label":"j(ρ,t)"}]},
"mark":{"type":"text","fontSize":26,"align":"left","baseline":"middle","color":"black"},
"encoding":{"x":{"field":"t","type":"quantitative","scale":{"domain":[0,35],"nice":false,"zero":false},"axis":null},"y":{"field":"r","type":"quantitative","scale":{"domain":[0,1],"nice":false},"axis":null},"text":{"field":"label"}}},
{"data":{"values":[{"t":10,"r":0.5}]},"mark":{"type":"point","opacity":0,"size":0},
"encoding":{"x":{"field":"t","type":"quantitative","scale":{"domain":[0,35],"nice":false,"zero":false},"axis":{"orient":"top","values":[0,2,4,6,8,10,12,14,16,18,20,22,24,26,28,30,32,34],"labels":false,"title":null}},
"y":{"field":"r","type":"quantitative","scale":{"domain":[0,1],"nice":false},"axis":{"orient":"right","values":[0,0.2,0.4,0.6,0.8,1],"labels":false,"title":null}}}}
],
"resolve":{"axis":{"x":"independent","y":"independent"}}
}
]},
{"spacing":0,"vconcat":[
{"width":10,"height":130,"data":{"values":[{"a":1}]},"mark":{"type":"point","opacity":0,"size":0},"view":{"stroke":null}},
{"width":146,"height":151,
"title":{"text":["Almost stationary","j & q profiles"],"orient":"bottom","anchor":"start","frame":"group","fontSize":25,"lineHeight":30,"offset":6,"dx":-21},
"layer":[
{"data":{"name":"q"},"transform":[{"filter":"datum.s == '5s'"}],"mark":{"type":"line","color":"#2030e0","strokeWidth":3},
"encoding":{"x":{"field":"x","type":"quantitative","scale":{"domain":[0,1],"nice":false},"axis":{"orient":"bottom","values":[0,0.1,0.2,0.3,0.4,0.5,0.6,0.7,0.8,0.9,1],"labelExpr":"datum.value==0||datum.value==1 ? format(datum.value,'d') : ''","labelFontSize":17,"labelPadding":13,"tickSize":-6,"title":"ρ","titleFontSize":16,"titlePadding":-17}},
"y":{"field":"q","type":"quantitative","scale":{"domain":[0,4],"nice":false},"axis":{"orient":"left","values":[0,0.5,1,1.5,2,2.5,3,3.5,4],"labelExpr":"datum.value % 1 == 0 ? format(datum.value,'d') : ''","labelFontSize":17,"labelPadding":13,"tickSize":-6,"title":"q","titleFontSize":18,"titlePadding":6}}}},
{"data":{"name":"q"},"transform":[{"filter":"datum.s == '23s'"}],"mark":{"type":"line","color":"#2a7a1e","strokeWidth":3},
"encoding":{"x":{"field":"x","type":"quantitative","scale":{"domain":[0,1],"nice":false},"axis":null},"y":{"field":"q","type":"quantitative","scale":{"domain":[0,4],"nice":false},"axis":null}}},
{"data":{"name":"q"},"transform":[{"filter":"datum.s == '3.3s'"}],"mark":{"type":"line","color":"#e02018","strokeWidth":3},
"encoding":{"x":{"field":"x","type":"quantitative","scale":{"domain":[0,1],"nice":false},"axis":null},"y":{"field":"q","type":"quantitative","scale":{"domain":[0,4],"nice":false},"axis":null}}},
{"data":{"values":[{"x1":0.1,"x2":0.425,"y1":2.0,"y2":3.84}]},"mark":{"type":"rect","fill":"white","stroke":"black","strokeWidth":2},
"encoding":{"x":{"field":"x1","type":"quantitative","scale":{"domain":[0,1],"nice":false},"axis":null},"x2":{"field":"x2"},"y":{"field":"y1","type":"quantitative","scale":{"domain":[0,4],"nice":false},"axis":null},"y2":{"field":"y2"}}},
{"data":{"values":[{"x":0.15,"q":3.34,"label":"3.3s"},{"x":0.15,"q":2.83,"label":"5s"},{"x":0.15,"q":2.35,"label":"23s"}]},"mark":{"type":"text","fontSize":16,"align":"left","baseline":"middle"},
"encoding":{"x":{"field":"x","type":"quantitative","scale":{"domain":[0,1],"nice":false},"axis":null},"y":{"field":"q","type":"quantitative","scale":{"domain":[0,4],"nice":false},"axis":null},"text":{"field":"label"},
"color":{"field":"label","type":"nominal","scale":{"domain":["3.3s","5s","23s"],"range":["#e02018","#2030e0","#2a7a1e"]},"legend":null}}},
{"data":{"values":[{"x":0.73,"q":0.42,"label":"q₀<1"}]},"mark":{"type":"text","fontSize":26,"align":"center","baseline":"alphabetic","color":"black"},
"encoding":{"x":{"field":"x","type":"quantitative","scale":{"domain":[0,1],"nice":false},"axis":null},"y":{"field":"q","type":"quantitative","scale":{"domain":[0,4],"nice":false},"axis":null},"text":{"field":"label"}}},
{"data":{"values":[{"x":0.5,"q":2}]},"mark":{"type":"point","opacity":0,"size":0},
"encoding":{"x":{"field":"x","type":"quantitative","scale":{"domain":[0,1],"nice":false},"axis":{"orient":"top","values":[0,0.1,0.2,0.3,0.4,0.5,0.6,0.7,0.8,0.9,1],"labels":false,"title":null,"tickSize":-6}},
"y":{"field":"q","type":"quantitative","scale":{"domain":[0,4],"nice":false},"axis":{"orient":"right","values":[0,0.5,1,1.5,2,2.5,3,3.5,4],"labels":false,"title":null,"tickSize":-6}}}}
],
"resolve":{"axis":{"x":"independent","y":"independent"}}
}
]}
]
}
